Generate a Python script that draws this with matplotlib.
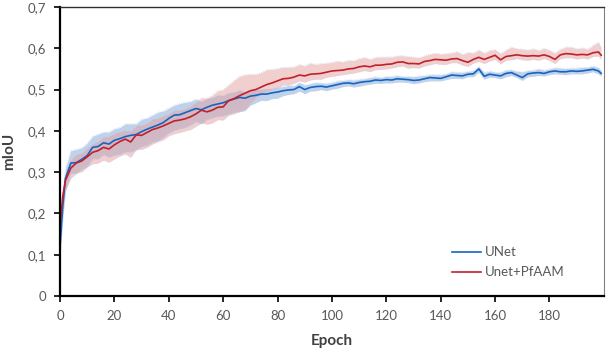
import matplotlib
matplotlib.use('Agg')
import matplotlib.pyplot as plt
import numpy as np

plt.rcParams['font.family'] = ['Lato', 'DejaVu Sans']

# epochs sampled from the curves
epochs = [0, 1] + list(range(2, 200, 2)) + [199]

unet = [0.120, 0.215, 0.285, 0.322, 0.323, 0.331, 0.340, 0.360, 0.362, 0.371,
        0.368, 0.377, 0.381, 0.386, 0.389, 0.391, 0.398, 0.404, 0.409, 0.414,
        0.420, 0.430, 0.438, 0.439, 0.444, 0.449, 0.454, 0.451, 0.457, 0.462,
        0.465, 0.468, 0.473, 0.477, 0.481, 0.479, 0.484, 0.486, 0.489, 0.489,
        0.492, 0.494, 0.497, 0.499, 0.500, 0.507, 0.500, 0.505, 0.507, 0.508,
        0.506, 0.509, 0.512, 0.515, 0.516, 0.514, 0.517, 0.519, 0.520, 0.523,
        0.522, 0.524, 0.523, 0.526, 0.525, 0.524, 0.522, 0.523, 0.526, 0.529,
        0.528, 0.527, 0.531, 0.535, 0.534, 0.533, 0.537, 0.538, 0.550, 0.532,
        0.537, 0.535, 0.533, 0.539, 0.541, 0.535, 0.529, 0.538, 0.540, 0.541,
        0.539, 0.543, 0.545, 0.543, 0.543, 0.545, 0.544, 0.545, 0.547, 0.549,
        0.545, 0.539]

pfaam = [0.170, 0.240, 0.280, 0.310, 0.322, 0.327, 0.337, 0.348, 0.352, 0.360,
         0.356, 0.366, 0.374, 0.380, 0.373, 0.390, 0.389, 0.396, 0.403, 0.407,
         0.412, 0.418, 0.424, 0.426, 0.429, 0.434, 0.441, 0.450, 0.446, 0.450,
         0.457, 0.458, 0.473, 0.478, 0.485, 0.491, 0.497, 0.500, 0.506, 0.512,
         0.516, 0.521, 0.526, 0.527, 0.530, 0.535, 0.533, 0.537, 0.538, 0.539,
         0.542, 0.545, 0.546, 0.547, 0.550, 0.551, 0.555, 0.557, 0.555, 0.559,
         0.559, 0.561, 0.562, 0.566, 0.567, 0.563, 0.563, 0.562, 0.568, 0.570,
         0.573, 0.572, 0.571, 0.574, 0.575, 0.570, 0.566, 0.573, 0.578, 0.573,
         0.578, 0.583, 0.572, 0.580, 0.582, 0.584, 0.582, 0.581, 0.582, 0.581,
         0.584, 0.580, 0.573, 0.584, 0.587, 0.586, 0.584, 0.585, 0.584, 0.589,
         0.591, 0.583]

# spread above / below the mean curves (x 0.001)
unet_up = [5, 20, 25, 30, 32, 28, 30, 27, 30, 26,
           29, 28, 27, 31, 28, 26, 30, 27, 29, 31,
           28, 25, 24, 27, 25, 22, 23, 20, 21, 19,
           22, 18, 19, 17, 18, 16, 14, 13, 12, 13,
           11, 12, 10, 11, 9, 10, 11, 9, 10, 8,
           9, 8, 9, 7, 8, 9, 8, 7, 9, 8,
           7, 8, 9, 8, 7, 8, 9, 10, 8, 7,
           8, 9, 7, 8, 8, 9, 7, 8, 6, 9,
           8, 7, 9, 8, 7, 9, 14, 8, 7, 9,
           8, 7, 8, 9, 8, 7, 8, 9, 7, 8,
           8, 7]
unet_lo = [30, 30, 30, 25, 27, 24, 26, 28, 30, 29,
           32, 36, 38, 37, 40, 38, 36, 39, 37, 38,
           36, 35, 37, 34, 36, 35, 32, 34, 30, 31,
           30, 32, 33, 32, 35, 30, 22, 18, 15, 16,
           14, 15, 12, 11, 10, 11, 10, 9, 10, 8,
           9, 8, 9, 8, 7, 8, 9, 8, 7, 8,
           7, 8, 7, 8, 7, 7, 8, 7, 7, 8,
           7, 6, 7, 8, 7, 7, 6, 7, 8, 7,
           7, 6, 7, 8, 7, 6, 7, 7, 8, 7,
           6, 7, 7, 6, 7, 7, 6, 7, 7, 6,
           7, 7]
pfaam_up = [5, 15, 15, 20, 21, 19, 22, 20, 23, 25,
            30, 28, 24, 22, 26, 23, 25, 22, 26, 24,
            25, 23, 26, 24, 25, 26, 28, 30, 33, 36,
            40, 42, 38, 44, 47, 45, 40, 37, 35, 36,
            33, 30, 28, 27, 25, 26, 24, 27, 23, 24,
            22, 21, 23, 20, 21, 19, 20, 21, 18, 19,
            20, 18, 17, 16, 15, 17, 16, 15, 14, 16,
            15, 14, 16, 15, 17, 15, 24, 16, 18, 15,
            17, 14, 15, 16, 21, 15, 16, 15, 17, 14,
            16, 15, 15, 14, 16, 17, 15, 16, 14, 18,
            24, 17]
pfaam_lo = [10, 20, 25, 25, 24, 26, 25, 28, 30, 31,
            32, 34, 35, 36, 37, 35, 34, 36, 35, 33,
            34, 30, 31, 30, 29, 31, 30, 31, 30, 31,
            30, 32, 35, 37, 38, 40, 30, 20, 18, 17,
            16, 17, 15, 16, 15, 14, 15, 14, 13, 14,
            12, 13, 12, 11, 12, 11, 12, 11, 12, 11,
            10, 11, 10, 11, 10, 11, 10, 10, 11, 10,
            10, 11, 10, 9, 10, 11, 10, 9, 10, 10,
            9, 10, 10, 9, 10, 9, 10, 10, 9, 10,
            9, 10, 10, 9, 10, 9, 10, 9, 10, 9,
            10, 10]

yticks = [0, 0.1, 0.2, 0.3, 0.4, 0.5, 0.6, 0.7]
ytick_labels = ['0', '0,1', '0,2', '0,3', '0,4', '0,5', '0,6', '0,7']
xticks = [0, 20, 40, 60, 80, 100, 120, 140, 160, 180]

blue = '#1565c0'
red = '#c0202a'
grey = '#595959'

fig = plt.figure(figsize=(6.06, 3.56), dpi=100)
ax = fig.add_axes([0.099, 0.1685, 0.8975, 0.812])

x = np.array(epochs)
for mean, up, lo, col, band, a in [(unet, unet_up, unet_lo, blue, '#94b4de', 0.6),
                                   (pfaam, pfaam_up, pfaam_lo, red, '#e4a0a0', 0.5)]:
    m = np.array(mean)
    hi = m + np.array(up) / 1000.0
    low = m - np.array(lo) / 1000.0
    ax.fill_between(x, low, hi, color=band, alpha=a, lw=0)
    ax.plot(x, hi, color='#c8d3ea', lw=0.6, ls=':', alpha=0.9)
    ax.plot(x, low, color='#c8d3ea', lw=0.6, ls=':', alpha=0.9)

ax.plot(x, unet, color=blue, lw=1.2, label='UNet')
ax.plot(x, pfaam, color=red, lw=1.2, label='Unet+PfAAM')

ax.set_xlim(0, 200)
ax.set_ylim(0, 0.7)
ax.set_yticks(yticks)
ax.set_yticklabels(ytick_labels)
ax.set_xticks(xticks)

for s in ['left', 'bottom']:
    ax.spines[s].set_linewidth(1.6)
    ax.spines[s].set_color('black')
ax.spines['top'].set_linewidth(1.0)
ax.spines['top'].set_color('#303030')
ax.spines['right'].set_linewidth(0.8)
ax.spines['right'].set_color('#808080')

ax.tick_params(axis='both', direction='out', length=4, width=1.2, color='black',
               labelsize=9.5, labelcolor=grey, pad=6)

ax.set_xlabel('Epoch', fontsize=11, fontweight='bold', color='#404040', labelpad=9)
ax.set_ylabel('mIoU', fontsize=11, fontweight='bold', color='#404040', labelpad=8)

leg = ax.legend(loc='lower right', bbox_to_anchor=(0.95, 0.02), frameon=False,
                fontsize=9.5, handlelength=2.2, handletextpad=0.3, labelspacing=0.6)
for t in leg.get_texts():
    t.set_color(grey)

fig.savefig('out.png', dpi=100)
